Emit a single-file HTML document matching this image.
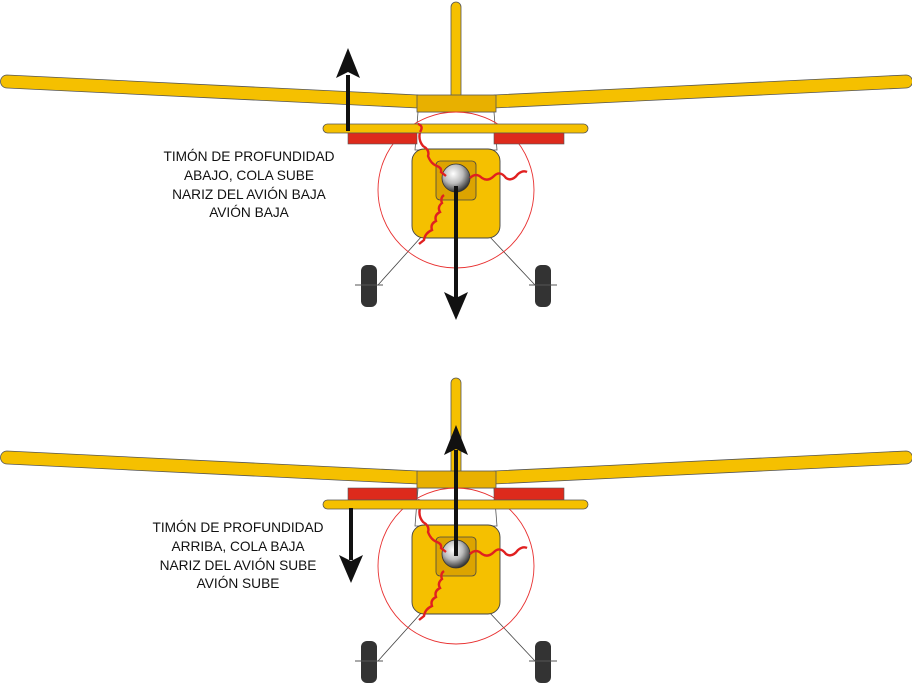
<!DOCTYPE html>
<html><head><meta charset="utf-8"><style>
html,body{margin:0;padding:0;background:#fff;}
svg{display:block;}
text{font-family:"Liberation Sans",sans-serif;font-size:13.7px;fill:#111;}
</style></head><body>
<svg width="912" height="684" viewBox="0 0 912 684" xmlns="http://www.w3.org/2000/svg">
<defs>
<radialGradient id="sp" cx="0.4" cy="0.35" r="0.7">
<stop offset="0" stop-color="#fff"/><stop offset="0.5" stop-color="#bbb"/><stop offset="1" stop-color="#222"/>
</radialGradient>
<g id="base">
  <rect x="451" y="2" width="10" height="100" rx="5" fill="#f5c000" stroke="#555" stroke-width="0.8"/>
  <path d="M7,75 L418,95 L418,108 L7,88 A6.5,6.5 0 0 1 7,75 Z" fill="#f5c000" stroke="#555" stroke-width="0.8"/>
  <path d="M906,75 L494,95 L494,108 L906,88 A6.5,6.5 0 0 0 906,75 Z" fill="#f5c000" stroke="#555" stroke-width="0.8"/>
  <path d="M418,112 L494,112 L497,150 L415,150 Z" fill="#fff" stroke="#555" stroke-width="0.8"/>
  <rect x="417" y="95" width="79" height="17" fill="#e8b000" stroke="#555" stroke-width="0.8"/>
  <line x1="422" y1="236" x2="378" y2="285" stroke="#444" stroke-width="0.8"/>
  <line x1="489" y1="236" x2="535" y2="285" stroke="#444" stroke-width="0.8"/>
  <rect x="361" y="265" width="16" height="42" rx="6" fill="#333"/>
  <rect x="535" y="265" width="16" height="42" rx="6" fill="#333"/>
  <line x1="355" y1="285" x2="383" y2="285" stroke="#555" stroke-width="1"/>
  <line x1="529" y1="285" x2="557" y2="285" stroke="#555" stroke-width="1"/>
  <rect x="412" y="149" width="88" height="89" rx="12" fill="#f5c000" stroke="#444" stroke-width="0.9"/>
  <rect x="436" y="161" width="40" height="39" rx="4" fill="#dca400" stroke="#444" stroke-width="0.8"/>
  <circle cx="456" cy="178" r="14" fill="url(#sp)" stroke="#333" stroke-width="0.8"/>
  <circle cx="456" cy="190" r="78" fill="none" stroke="#e83030" stroke-width="0.9"/>
  <path d="M418,124 Q424,126 420,132 Q418,140 423,146 Q430,150 428,156 Q431,164 437,166 Q442,168 441,172 L446,176 M444,195 Q440,198 442,203 Q437,207 440,212 Q434,215 436,221 Q430,224 432,230 Q425,233 424,240 L419,244 M470,178 Q476,172 482,178 Q488,182 494,176 Q500,170 506,178 Q512,182 518,174 Q523,170 527,172" fill="none" stroke="#e02020" stroke-width="2.4"/>
</g>
</defs>

<use href="#base"/>
<rect x="323" y="124" width="265" height="9" rx="4.5" fill="#f5c000" stroke="#555" stroke-width="0.8"/>
<rect x="348" y="133" width="69" height="11" fill="#dd2a1c" stroke="#555" stroke-width="0.6"/>
<rect x="494" y="133" width="70" height="11" fill="#dd2a1c" stroke="#555" stroke-width="0.6"/>
<path d="M418,124 Q424,126 420,132" stroke="#e02020" stroke-width="2.4" fill="none"/>
<line x1="348" y1="75" x2="348" y2="131" stroke="#111" stroke-width="4"/>
<path d="M348,48 L336,78 L348,72 L360,78 Z" fill="#111"/>
<line x1="456" y1="186" x2="456" y2="298" stroke="#111" stroke-width="4"/>
<path d="M456,320 L444,292 L456,298 L468,292 Z" fill="#111"/>
<text text-anchor="middle" x="249" y="161">TIMÓN DE PROFUNDIDAD</text>
<text text-anchor="middle" x="249" y="180">ABAJO, COLA SUBE</text>
<text text-anchor="middle" x="249" y="199">NARIZ DEL AVIÓN BAJA</text>
<text text-anchor="middle" x="249" y="217">AVIÓN BAJA</text>

<g transform="translate(0,376)"><use href="#base"/></g>
<rect x="348" y="488" width="69" height="12" fill="#dd2a1c" stroke="#555" stroke-width="0.6"/>
<rect x="494" y="488" width="70" height="12" fill="#dd2a1c" stroke="#555" stroke-width="0.6"/>
<rect x="323" y="500" width="265" height="9" rx="4.5" fill="#f5c000" stroke="#555" stroke-width="0.8"/>
<line x1="351" y1="508" x2="351" y2="560" stroke="#111" stroke-width="4"/>
<path d="M351,583 L339,555 L351,561 L363,555 Z" fill="#111"/>
<line x1="456" y1="450" x2="456" y2="556" stroke="#111" stroke-width="4"/>
<path d="M456,425 L444,455 L456,449 L468,455 Z" fill="#111"/>
<text text-anchor="middle" x="238" y="532">TIMÓN DE PROFUNDIDAD</text>
<text text-anchor="middle" x="238" y="551">ARRIBA, COLA BAJA</text>
<text text-anchor="middle" x="238" y="570">NARIZ DEL AVIÓN SUBE</text>
<text text-anchor="middle" x="238" y="588">AVIÓN SUBE</text>
</svg>
</body></html>
